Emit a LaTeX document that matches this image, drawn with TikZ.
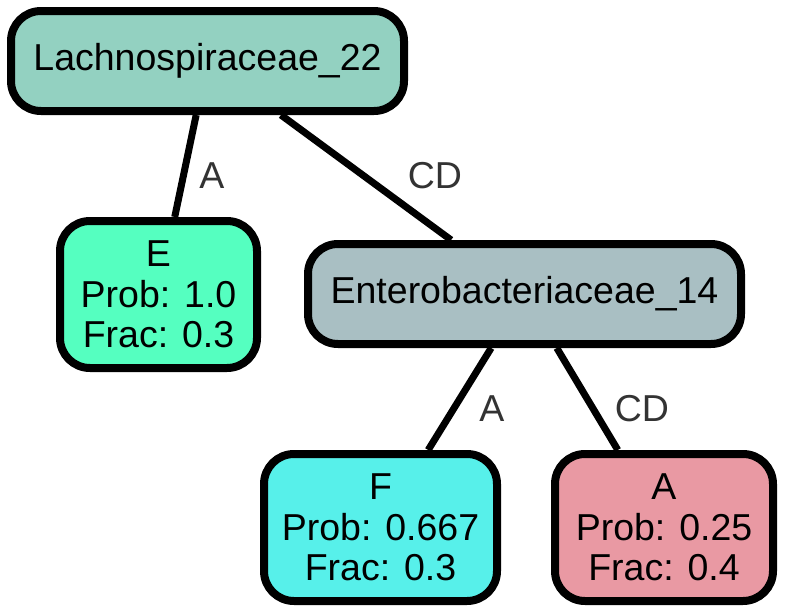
\documentclass[tikz,border=0pt]{standalone}
\usepackage{fontspec}
\setmainfont{Liberation Sans}
\usepackage{tikz}

\definecolor{lachnofill}{HTML}{93D1C1}
\definecolor{enterofill}{HTML}{A9BFC3}
\definecolor{efill}{HTML}{55FFC0}
\definecolor{ffill}{HTML}{57F0EA}
\definecolor{afill}{HTML}{E999A3}
\definecolor{lblgray}{HTML}{333333}

\tikzset{
    taxon/.style={shape=rectangle,draw=black,line width=8pt,rounded corners=30pt,
        inner sep=0pt,align=center,font=\fontsize{37.5}{40.5}\selectfont},
    lbl/.style={text=lblgray,inner sep=0pt,font=\fontsize{37.5}{40.5}\selectfont},
}

\begin{document}
\begin{tikzpicture}[x=1pt,y=-1pt]
    	\useasboundingbox (0,0) rectangle (785,613);
    	
    	\node[taxon,fill=lachnofill,minimum width=393pt,minimum height=100pt] (lachno) at (207.5, 61)   {Lachnospiraceae\_22};
    	\node[taxon,fill=efill,minimum width=197pt,minimum height=147pt] (e) at (158.5, 294.5)   {E\\Prob: 1.0\\Frac: 0.3};
    	\node[taxon,fill=enterofill,minimum width=433pt,minimum height=100pt] (entero) at (524.5, 294)   {Enterobacteriaceae\_14};
    	
    	\node[taxon,fill=ffill,minimum width=233pt,minimum height=147pt] (f) at (380.5, 527.5)   {F\\Prob: 0.667\\Frac: 0.3};
    	\node[taxon,fill=afill,minimum width=218pt,minimum height=147pt] (a) at (664, 527.5)   {A\\Prob: 0.25\\Frac: 0.4};
    	
    	\path[-,line width=7pt] (lachno) edge (e);
    	\path[-,line width=7pt] (lachno) edge (entero);
    	
    	\path[-,line width=7pt] (entero) edge (f);
    	\path[-,line width=7pt] (entero) edge (a);
    	
    	\node[lbl] (lblE) at (212, 176)   {A};
    	\node[lbl] (lblEntero) at (435, 176)   {CD};
    	\node[lbl] (lblF) at (492, 409)   {A};
    	\node[lbl] (lblA) at (642, 409)   {CD};
    
    	\end{tikzpicture}
\end{document}
